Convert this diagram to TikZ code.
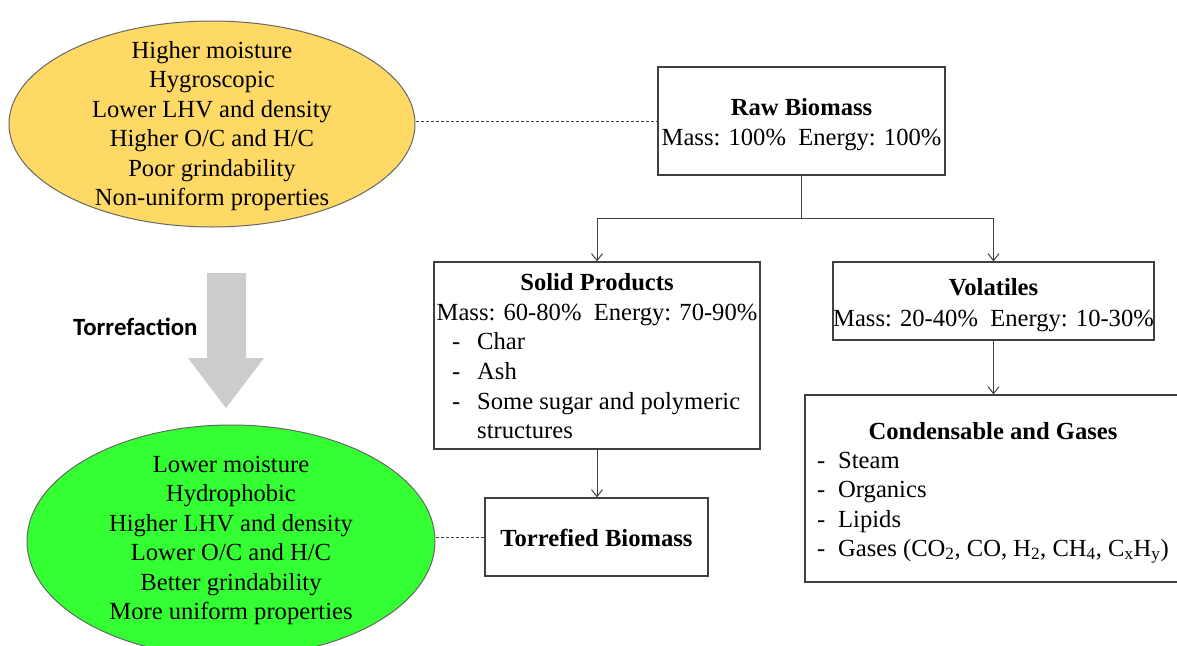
\documentclass[tikz,border=0pt]{standalone}
\usepackage{fontspec}
\setmainfont{Liberation Serif}
\newfontfamily\torrfont{Carlito}
\usetikzlibrary{arrows.meta,shapes.geometric,calc}
\definecolor{ellyellow}{RGB}{255,217,102}
\definecolor{ellgreen}{RGB}{51,255,51}
\definecolor{edgegray}{RGB}{64,64,64}
\definecolor{blockgray}{RGB}{204,204,204}
\begin{document}
\begin{tikzpicture}[x=1pt,y=-1pt,
  txt/.style={font=\fontsize{24.6}{29.5}\selectfont, inner sep=0pt, anchor=base},
  hdr/.style={txt, font=\fontsize{24.6}{29.5}\selectfont\bfseries},
  lst/.style={txt, anchor=base west},
  boxnode/.style={draw=edgegray, line width=1.2pt, rectangle, inner sep=0pt},
  ellnode/.style={ellipse, draw=edgegray!80, line width=1pt, inner sep=0pt},
  conn/.style={draw=edgegray, line width=1pt},
  arr/.style={conn, -{Straight Barb[length=7pt,width=11pt]}},
  dashline/.style={draw=edgegray, line width=0.8pt, dash pattern=on 3pt off 2pt}
]
\useasboundingbox (0,0) rectangle (1177,645);

% ellipses
\node[ellnode, fill=ellyellow, minimum width=406, minimum height=206] (e1) at (212,124) {};
\node[txt, anchor=center, align=center] (e1t) at (212,126) {Higher moisture\\Hygroscopic\\Lower LHV and density\\Higher O/C and H/C\\Poor grindability\\Non-uniform properties};

\node[ellnode, fill=ellgreen, minimum width=408, minimum height=232] (e2) at (231,541) {};
\node[txt, anchor=center, align=center] (e2t) at (231,540.5) {Lower moisture\\Hydrophobic\\Higher LHV and density\\Lower O/C and H/C\\Better grindability\\More uniform properties};

% block arrow
\fill[blockgray] (207,273) -- (246,273) -- (246,358) -- (264,358) -- (226,408) -- (188,358) -- (207,358) -- cycle;
\node[inner sep=0pt, anchor=base west, font=\torrfont\fontsize{24.8}{29}\selectfont\bfseries] (torrlab) at (73,335) {Torrefaction};

% boxes
\node[boxnode, minimum width=287, minimum height=108] (raw) at (801.5,121) {};
\node[hdr] (rawh) at (801.5,115) {Raw Biomass};
\node[txt] (rawm) at (801.5,145) {Mass: 100\%\ \ Energy: 100\%};

\node[boxnode, minimum width=326, minimum height=187] (solid) at (597,355.5) {};
\node[hdr] (solh) at (597,290) {Solid Products};
\node[txt] (solm) at (597,320) {Mass: 60-80\%\ \ Energy: 70-90\%};
\node[lst] (sold1) at (452,349) {-};
\node[lst] (sol1) at (477,349) {Char};
\node[lst] (sold2) at (452,379) {-};
\node[lst] (sol2) at (477,379) {Ash};
\node[lst] (sold3) at (452,409) {-};
\node[lst] (sol3) at (477,409) {Some sugar and polymeric};
\node[lst] (sol4) at (477,438) {structures};

\node[boxnode, minimum width=321, minimum height=78] (vol) at (993.5,301) {};
\node[hdr] (volh) at (993.5,295) {Volatiles};
\node[txt] (volm) at (993.5,326) {Mass: 20-40\%\ \ Energy: 10-30\%};

\node[boxnode, minimum width=380, minimum height=187] (cond) at (995,488.5) {};
\node[hdr] (condh) at (993,439) {Condensable and Gases};
\node[lst] (condd1) at (817,468) {-};
\node[lst] (cond1) at (838,468) {Steam};
\node[lst] (condd2) at (817,497) {-};
\node[lst] (cond2) at (838,497) {Organics};
\node[lst] (condd3) at (817,527) {-};
\node[lst] (cond3) at (838,527) {Lipids};
\node[lst] (condd4) at (817,556) {-};
\node[lst] (cond4) at (838,556) {Gases (CO\textsubscript{2}, CO, H\textsubscript{2}, CH\textsubscript{4}, C\textsubscript{x}H\textsubscript{y})};

\node[boxnode, minimum width=223, minimum height=78] (torr) at (596.5,537) {};
\node[hdr] (torrh) at (596.5,546) {Torrefied Biomass};

% connectors
\coordinate (junc) at ($(raw.south)+(0,43)$);
\draw[conn] (raw.south) -- (junc);
\draw[arr] (junc) -| (solid.north);
\draw[arr] (junc) -| (vol.north);
\draw[arr] (vol.south) -- (vol.south |- cond.north);
\draw[arr] (solid.south) -- (solid.south |- torr.north);
\draw[dashline] (e1.east |- raw.west) -- (raw.west);
\draw[dashline] (e2.east |- torr.west) -- (torr.west);
\end{tikzpicture}
\end{document}
